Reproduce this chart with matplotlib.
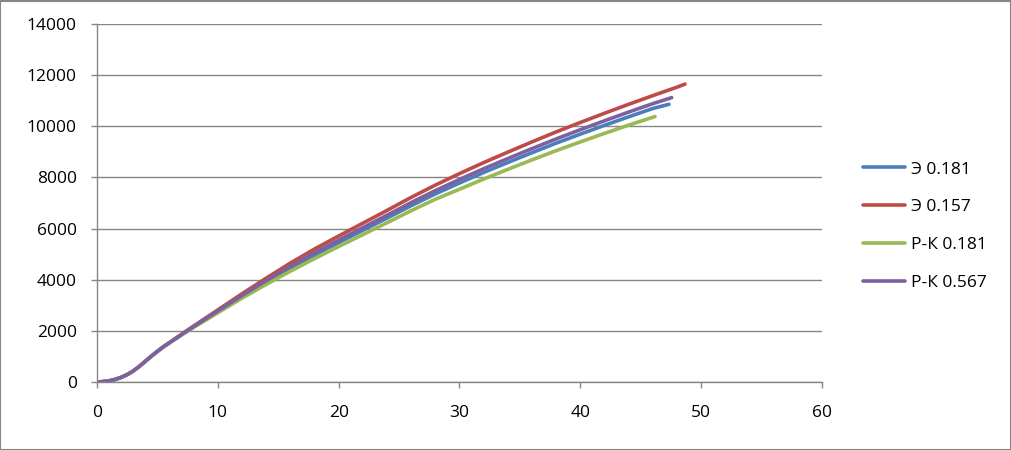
import matplotlib
matplotlib.use("Agg")
import matplotlib.pyplot as plt
from matplotlib.patches import Rectangle

plt.rcParams['font.family'] = ['Open Sans', 'DejaVu Sans']

# Series data (x, y)
x_e157 = [0, 0.5, 1, 1.5, 2, 2.5, 3, 3.5, 4, 4.5, 5, 5.5, 6, 7, 8, 10, 12, 14, 16, 18,
          20, 22, 24, 26, 28, 30, 32, 34, 36, 38, 40, 42, 44, 46, 48, 48.66]
y_e157 = [0, 15, 45, 100, 180, 290, 430, 610, 810, 1010, 1200, 1380, 1545, 1870, 2190,
          2820, 3450, 4060, 4650, 5200, 5710, 6210, 6710, 7220, 7700, 8150, 8580, 8990,
          9390, 9780, 10150, 10510, 10860, 11200, 11530, 11650]

x_e181 = [0, 0.5, 1, 1.5, 2, 2.5, 3, 3.5, 4, 4.5, 5, 5.5, 6, 7, 8, 10, 12, 14, 16, 18,
          20, 22, 24, 26, 28, 30, 32, 34, 36, 38, 40, 42, 44, 46, 47.34]
y_e181 = [0, 15, 45, 100, 180, 290, 430, 610, 810, 1010, 1200, 1377, 1534, 1848, 2157,
          2750, 3340, 3906, 4441, 4966, 5453, 5931, 6408, 6895, 7354, 7783, 8194, 8585,
          8967, 9340, 9693, 10037, 10371, 10696, 10860]

x_rk181 = [0, 0.5, 1, 1.5, 2, 2.5, 3, 3.5, 4, 4.5, 5, 5.5, 6, 7, 8, 10, 12, 14, 16, 18,
           20, 22, 24, 26, 28, 30, 32, 34, 36, 38, 40, 42, 44, 46.18]
y_rk181 = [0, 15, 45, 100, 180, 290, 430, 610, 810, 1010, 1200, 1374, 1530, 1836, 2135,
           2707, 3278, 3816, 4334, 4826, 5299, 5763, 6227, 6700, 7146, 7539, 7937, 8316,
           8686, 9047, 9389, 9722, 10046, 10380]

x_rk567 = [0, 0.5, 1, 1.5, 2, 2.5, 3, 3.5, 4, 4.5, 5, 5.5, 6, 7, 8, 10, 12, 14, 16, 18,
           20, 22, 24, 26, 28, 30, 32, 34, 36, 38, 40, 42, 44, 46, 47.56]
y_rk567 = [0, 15, 45, 100, 180, 290, 430, 610, 810, 1010, 1200, 1378, 1537, 1855, 2168,
           2778, 3381, 3963, 4520, 5054, 5550, 6036, 6522, 7018, 7484, 7922, 8340, 8738,
           9127, 9506, 9866, 10216, 10556, 10886, 11120]

labels = ['Э 0.181', 'Э 0.157', 'Р-К 0.181', 'Р-К 0.567']
colors = ['#4A7EBB', '#BE4B48', '#98B954', '#7D60A0']

x_ticks = [0, 10, 20, 30, 40, 50, 60]
y_ticks = [0, 2000, 4000, 6000, 8000, 10000, 12000, 14000]

W, H = 1012, 450
fig = plt.figure(figsize=(W / 100, H / 100), dpi=100)
ax = fig.add_axes([97 / W, 1 - 382 / H, (822 - 97) / W, (382 - 24) / H])

series = [(x_e181, y_e181), (x_e157, y_e157), (x_rk181, y_rk181), (x_rk567, y_rk567)]
lines = []
for (xs, ys), lab, col in zip(series, labels, colors):
    ln, = ax.plot(xs, ys, color=col, lw=2.6, label=lab, solid_capstyle='round',
                  solid_joinstyle='round')
    lines.append(ln)

ax.set_xlim(0, 60)
ax.set_ylim(0, 14000)
ax.set_xticks(x_ticks)
ax.set_yticks(y_ticks)
ax.set_xticklabels([str(v) for v in x_ticks])
ax.set_yticklabels([str(v) for v in y_ticks])

grid_col = '#868686'
ax.yaxis.grid(True, color=grid_col, lw=1.0)
ax.set_axisbelow(True)
for s in ['top', 'right']:
    ax.spines[s].set_visible(False)
for s in ['left', 'bottom']:
    ax.spines[s].set_color(grid_col)
    ax.spines[s].set_linewidth(1.0)
ax.tick_params(axis='both', colors=grid_col, length=4.5, width=1.0, labelsize=12.5,
               labelcolor='black')
ax.tick_params(axis='y', pad=10)
ax.tick_params(axis='x', pad=12)

fig.legend(handles=lines, labels=labels, loc='center left',
           bbox_to_anchor=(863 / W, 1 - 226 / H), bbox_transform=fig.transFigure,
           frameon=False, fontsize=12.5, handlelength=2.4, handletextpad=0.35,
           labelspacing=1.24, borderpad=0, borderaxespad=0)

fig.patches.append(Rectangle((0.5 / W, 0.5 / H), 1 - 1.5 / W, 1 - 1.5 / H,
                             transform=fig.transFigure, fill=False,
                             edgecolor=grid_col, lw=1.5))

fig.savefig('out.png', dpi=100, facecolor='white')
